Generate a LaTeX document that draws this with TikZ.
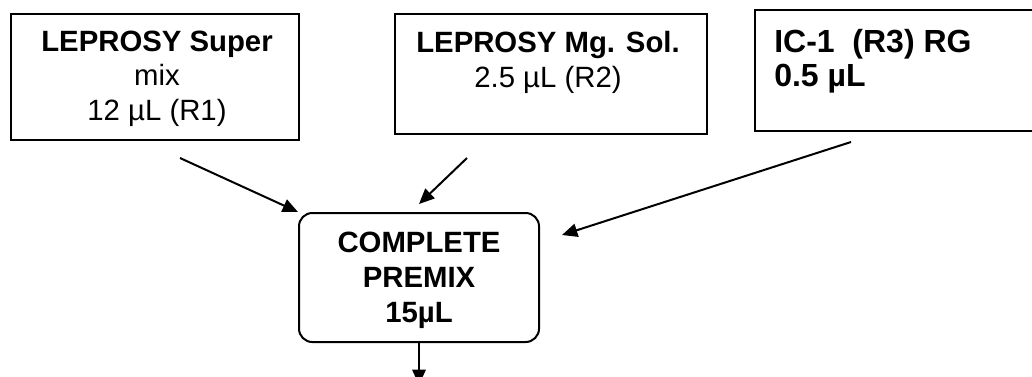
\documentclass[tikz,border=0pt]{standalone}
\usepackage{fontspec}
\setmainfont{Liberation Sans}
\usetikzlibrary{arrows.meta}
\tikzset{
  boxline/.style={draw=black, line width=1.5pt, inner sep=0pt},
  txt/.style={inner sep=0pt, font=\fontsize{22}{26}\selectfont},
  conn/.style={line width=1.5pt, -{Triangle[length=11.5pt,width=10pt]}},
}
\begin{document}
\begin{tikzpicture}[x=0.75pt,y=-0.75pt]
\clip (0,0) rectangle (1032,376);
\fill[white] (0,0) rectangle (1032,376);
% boxes
\node[boxline, minimum width=288*0.75pt, minimum height=126*0.75pt] (b1) at (155,77) {};
\node[boxline, minimum width=312*0.75pt, minimum height=120*0.75pt] (b2) at (551,74) {};
\node[boxline, minimum width=290*0.75pt, minimum height=121*0.75pt] (b3) at (900,70.5) {};
\node[boxline, rounded corners=10pt, minimum width=240*0.75pt, minimum height=129*0.75pt] (pm) at (419,277.5) {};
% texts
\node[txt, anchor=north, align=center] (t1) at (157,30.5) {\textbf{LEPROSY Super}\\mix\\12 µL (R1)};
\node[txt, anchor=north, align=center] (t2) at (548,31) {\textbf{LEPROSY Mg. Sol.}\\2.5 µL (R2)};
\node[txt, anchor=north west, align=left, font=\fontsize{24}{25.5}\selectfont\bfseries] (t3) at (774,29) {IC-1\ \ (R3) RG\\0.5 µL};
\node[txt, anchor=north, align=center, font=\fontsize{22}{26.3}\selectfont\bfseries] (t4) at (419,232) {COMPLETE\\PREMIX\\15µL};
% connector ends
\coordinate (s1) at (180,158);
\coordinate (s2) at (467,158);
\coordinate (e2) at (419,204);
\coordinate (s3) at (851,142);
\coordinate (e3) at (562,235);
\coordinate (e4) at (419,385);
\draw[conn] (s1) -- (pm.north west);
\draw[conn] (s2) -- (e2);
\draw[conn] (s3) -- (e3);
\draw[conn] (pm.south) -- (e4);
\end{tikzpicture}
\end{document}
